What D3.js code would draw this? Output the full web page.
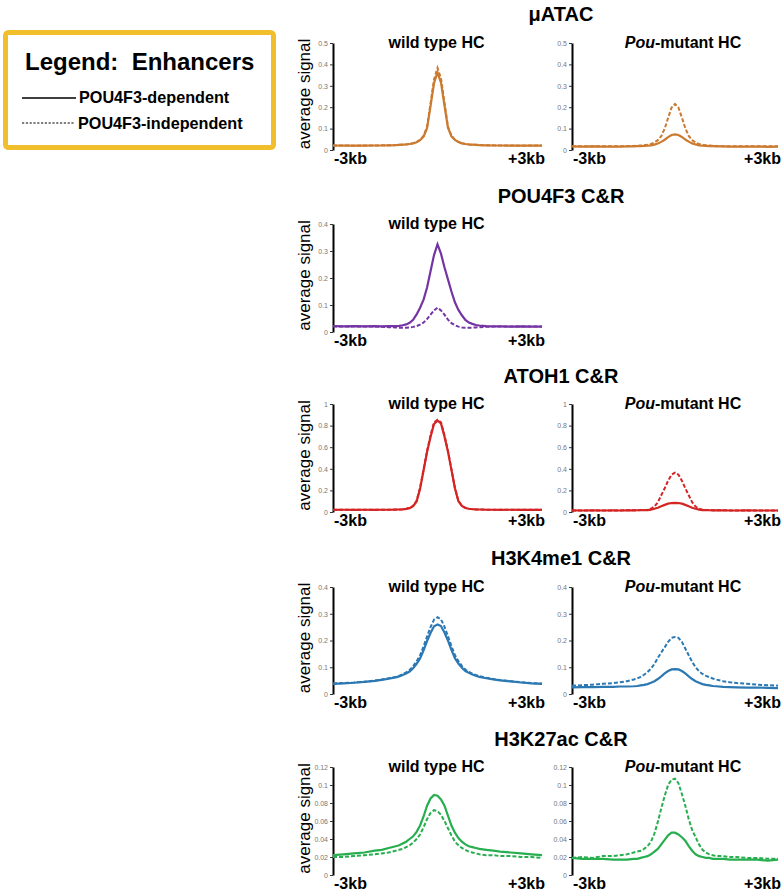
<!DOCTYPE html>
<html>
<head>
<meta charset="utf-8">
<script src="https://cdn.jsdelivr.net/npm/d3@7"></script>
<style>
html,body{margin:0;padding:0;background:#fff;}
svg{display:block;font-family:"Liberation Sans",Arial,sans-serif;}
</style>
</head>
<body>
<svg id="chart" width="783" height="892"></svg>
<script>
// genomic offsets (kb) of the profile bins
const xKb = [-3,-2.7,-2.4,-2.1,-1.8,-1.6,-1.4,
  -1.2,-1.1,-1.0,-0.9,-0.8,-0.7,-0.6,-0.5,-0.4,-0.3,-0.2,-0.1,0,0.1,0.2,0.3,0.4,0.5,0.6,0.7,0.8,0.9,1.0,1.1,1.2,
  1.4,1.6,1.8,2.1,2.4,2.7,3];

// µATAC
const atacWtDep = [0.021,0.020,0.021,0.020,0.021,0.021,0.022, 0.023,0.024,0.025,0.026,0.028,0.031,0.036,0.046,0.063,0.102,0.205,0.312,0.362,0.315,0.208,0.104,0.064,0.047,0.037,0.031,0.028,0.026,0.025,0.024,0.023, 0.022,0.021,0.021,0.020,0.021,0.020,0.020];
const atacWtInd = [0.021,0.021,0.020,0.021,0.021,0.022,0.022, 0.023,0.024,0.025,0.026,0.028,0.032,0.037,0.048,0.066,0.108,0.218,0.330,0.384,0.335,0.222,0.110,0.067,0.048,0.038,0.032,0.028,0.026,0.025,0.024,0.023, 0.022,0.022,0.021,0.021,0.020,0.021,0.021];
const atacMutDep = [0.017,0.016,0.017,0.016,0.016,0.016,0.017, 0.017,0.018,0.018,0.019,0.020,0.022,0.025,0.030,0.038,0.048,0.060,0.070,0.073,0.070,0.061,0.049,0.039,0.031,0.026,0.022,0.020,0.019,0.018,0.018,0.017, 0.017,0.016,0.016,0.016,0.016,0.015,0.016];
const atacMutInd = [0.018,0.018,0.017,0.018,0.017,0.018,0.018, 0.019,0.020,0.021,0.022,0.024,0.028,0.035,0.046,0.065,0.100,0.150,0.198,0.215,0.198,0.152,0.102,0.066,0.046,0.035,0.028,0.024,0.022,0.021,0.020,0.019, 0.018,0.018,0.017,0.018,0.017,0.018,0.018];
// POU4F3 C&R
const pouWtDep = [0.022,0.021,0.022,0.021,0.022,0.021,0.022, 0.022,0.023,0.025,0.028,0.034,0.045,0.065,0.090,0.120,0.165,0.225,0.285,0.325,0.290,0.240,0.195,0.150,0.110,0.082,0.062,0.045,0.035,0.030,0.026,0.024, 0.022,0.021,0.021,0.020,0.021,0.020,0.020];
const pouWtInd = [0.021,0.020,0.021,0.020,0.020,0.019,0.018, 0.017,0.016,0.016,0.016,0.017,0.019,0.022,0.027,0.035,0.048,0.064,0.080,0.090,0.080,0.064,0.046,0.033,0.025,0.020,0.017,0.016,0.016,0.016,0.017,0.018, 0.019,0.020,0.020,0.020,0.020,0.020,0.020];
// ATOH1 C&R
const atohWtDep = [0.020,0.021,0.020,0.021,0.020,0.021,0.021, 0.022,0.023,0.025,0.029,0.036,0.054,0.098,0.215,0.385,0.555,0.695,0.815,0.845,0.820,0.700,0.560,0.390,0.220,0.100,0.056,0.037,0.030,0.026,0.024,0.023, 0.021,0.021,0.020,0.021,0.020,0.020,0.020];
const atohWtInd = [0.021,0.020,0.021,0.020,0.021,0.020,0.021, 0.022,0.023,0.026,0.030,0.038,0.057,0.104,0.225,0.395,0.565,0.710,0.830,0.855,0.830,0.710,0.565,0.395,0.225,0.104,0.058,0.038,0.031,0.027,0.024,0.023, 0.022,0.021,0.021,0.020,0.021,0.020,0.021];
const atohMutDep = [0.015,0.014,0.015,0.014,0.015,0.014,0.015, 0.015,0.016,0.016,0.017,0.018,0.022,0.030,0.040,0.053,0.066,0.077,0.083,0.085,0.083,0.077,0.066,0.053,0.040,0.030,0.022,0.018,0.017,0.016,0.015,0.015, 0.015,0.014,0.014,0.015,0.014,0.014,0.014];
const atohMutInd = [0.015,0.015,0.014,0.015,0.015,0.015,0.016, 0.016,0.017,0.018,0.019,0.022,0.030,0.050,0.090,0.155,0.220,0.290,0.345,0.365,0.345,0.290,0.220,0.155,0.090,0.050,0.030,0.022,0.019,0.018,0.017,0.016, 0.016,0.015,0.015,0.015,0.014,0.015,0.015];
// H3K4me1 C&R
const k4WtDep = [0.038,0.040,0.042,0.045,0.049,0.053,0.057, 0.062,0.066,0.071,0.077,0.084,0.096,0.113,0.133,0.163,0.198,0.228,0.253,0.260,0.254,0.230,0.200,0.165,0.134,0.114,0.098,0.086,0.079,0.073,0.068,0.064, 0.059,0.055,0.051,0.047,0.043,0.040,0.038];
const k4WtInd = [0.039,0.041,0.043,0.046,0.050,0.054,0.059, 0.064,0.068,0.074,0.081,0.090,0.104,0.122,0.145,0.178,0.215,0.250,0.278,0.287,0.279,0.252,0.216,0.179,0.146,0.123,0.105,0.091,0.083,0.076,0.071,0.067, 0.061,0.056,0.052,0.048,0.044,0.041,0.039];
const k4MutDep = [0.025,0.026,0.026,0.027,0.027,0.028,0.028, 0.029,0.030,0.032,0.034,0.037,0.042,0.048,0.056,0.066,0.077,0.086,0.092,0.093,0.092,0.086,0.077,0.066,0.056,0.048,0.042,0.037,0.034,0.032,0.030,0.029, 0.027,0.026,0.025,0.024,0.024,0.023,0.022];
const k4MutInd = [0.031,0.033,0.035,0.038,0.041,0.044,0.048, 0.054,0.058,0.064,0.072,0.082,0.095,0.112,0.135,0.155,0.175,0.195,0.210,0.213,0.210,0.195,0.170,0.145,0.120,0.100,0.085,0.075,0.068,0.063,0.058,0.054, 0.048,0.044,0.041,0.038,0.035,0.033,0.031];
// H3K27ac C&R
const k27WtDep = [0.022,0.023,0.024,0.025,0.027,0.028,0.030, 0.032,0.033,0.035,0.037,0.040,0.043,0.048,0.055,0.065,0.077,0.085,0.089,0.088,0.084,0.077,0.066,0.055,0.047,0.041,0.037,0.034,0.032,0.031,0.030,0.029, 0.028,0.027,0.026,0.025,0.024,0.023,0.022];
const k27WtInd = [0.020,0.020,0.021,0.022,0.023,0.024,0.025, 0.027,0.028,0.029,0.031,0.033,0.036,0.040,0.045,0.053,0.062,0.069,0.072,0.071,0.067,0.060,0.052,0.044,0.037,0.033,0.030,0.028,0.026,0.025,0.024,0.023, 0.022,0.022,0.021,0.021,0.020,0.020,0.019];
const k27MutDep = [0.019,0.018,0.018,0.018,0.017,0.017,0.017, 0.018,0.018,0.019,0.020,0.021,0.023,0.026,0.029,0.034,0.039,0.044,0.047,0.047,0.045,0.042,0.038,0.032,0.027,0.023,0.021,0.020,0.019,0.019,0.018,0.018, 0.018,0.017,0.017,0.017,0.017,0.016,0.017];
const k27MutInd = [0.019,0.020,0.019,0.021,0.021,0.022,0.023, 0.025,0.026,0.027,0.029,0.032,0.037,0.046,0.059,0.074,0.088,0.100,0.106,0.107,0.102,0.090,0.077,0.062,0.050,0.042,0.034,0.028,0.025,0.023,0.022,0.021, 0.021,0.020,0.020,0.019,0.019,0.018,0.018];

const rowTitles = ["μATAC","POU4F3 C&R","ATOH1 C&R","H3K4me1 C&R","H3K27ac C&R"];
const rowColors = ["#CB7A30","#7434A3","#D42525","#2B78B3","#27AE4F"];
const rowMax = [0.5,0.4,1,0.4,0.12];
const rowTicks = [
  ["0","0.1","0.2","0.3","0.4","0.5"],
  ["0","0.1","0.2","0.3","0.4"],
  ["0","0.2","0.4","0.6","0.8","1"],
  ["0","0.1","0.2","0.3","0.4"],
  ["0","0.02","0.04","0.06","0.08","0.1","0.12"]
];
const panelLabels = ["wild type HC","Pou-mutant HC"];
const legendTitle = "Legend:  Enhancers";
const legendItems = ["POU4F3-dependent","POU4F3-independent"];
const xEndLabels = ["-3kb","+3kb"];

const rowSeries = [
  [[atacWtDep,atacWtInd],[atacMutDep,atacMutInd]],
  [[pouWtDep,pouWtInd]],
  [[atohWtDep,atohWtInd],[atohMutDep,atohMutInd]],
  [[k4WtDep,k4WtInd],[k4MutDep,k4MutInd]],
  [[k27WtDep,k27WtInd],[k27MutDep,k27MutInd]]
];

// layout
const rowTop = [43,224,404,587,767];
const rowZero = [150,332,512,694,875];
const titleBase = [21,203,383,565,746];
const panelX = [[333,542],[572,778]];

const svg = d3.select("#chart");

// Legend box
const lg = svg.append("g");
lg.append("rect").attr("x",5.5).attr("y",32.5).attr("width",268).attr("height",115)
  .attr("rx",3).attr("fill","#fff").attr("stroke","#F2BF2C").attr("stroke-width",5);
lg.append("text").attr("x",25).attr("y",70).attr("font-size",24).attr("font-weight","bold")
  .style("white-space","pre").text(legendTitle);
lg.append("line").attr("x1",22).attr("x2",76).attr("y1",98).attr("y2",98)
  .attr("stroke","#000").attr("stroke-width",1.5);
lg.append("text").attr("x",79).attr("y",103).attr("font-size",16.2).attr("font-weight","bold").text(legendItems[0]);
lg.append("line").attr("x1",22).attr("x2",75).attr("y1",123).attr("y2",123)
  .attr("stroke","#000").attr("stroke-width",1.2).attr("stroke-dasharray","2.2,1.6");
lg.append("text").attr("x",78).attr("y",129).attr("font-size",16.2).attr("font-weight","bold").text(legendItems[1]);

rowTitles.forEach((title, r) => {
  const g = svg.append("g");
  g.append("text").attr("x",561).attr("y",titleBase[r]).attr("text-anchor","middle")
    .attr("font-size",20).attr("font-weight","bold").text(title);

  const top = rowTop[r], zero = rowZero[r];
  // y axis title
  g.append("text")
    .attr("transform",`translate(310,${(top+zero)/2-2.5}) rotate(-90)`)
    .attr("text-anchor","middle").attr("font-size",17).text("average signal");

  rowSeries[r].forEach((pair, p) => {
    const [x0,x1] = panelX[p];
    const x = d3.scaleLinear().domain([-3,3]).range([x0,x1]);
    const y = d3.scaleLinear().domain([0,rowMax[r]]).range([zero,top]);
    const pg = g.append("g");

    // y axis
    const axis = d3.axisLeft(y).tickValues(rowTicks[r].map(Number))
      .tickFormat((d,i)=>rowTicks[r][i]).tickSize(3).tickSizeOuter(0).tickPadding(2);
    const ax = pg.append("g").attr("transform",`translate(${x0},0)`).call(axis);
    ax.select(".domain").attr("stroke","#000").attr("stroke-width",2);
    ax.selectAll(".tick line").attr("stroke","#333").attr("stroke-width",1);
    ax.selectAll(".tick text").attr("font-size",7).attr("fill","#777")
      .attr("font-family","'Liberation Sans',Arial,sans-serif");

    // panel label
    const lt = pg.append("text").attr("x",(x0+x1)/2 + (p===1?8:-1)).attr("y",top+4.5)
      .attr("text-anchor","middle").attr("font-size",16).attr("font-weight","bold");
    if (p===0) lt.text(panelLabels[0]);
    else {
      lt.append("tspan").attr("font-style","italic").text("Pou");
      lt.append("tspan").text("-mutant HC");
    }

    // x end labels
    pg.append("text").attr("x",x0+1).attr("y",zero+13.5).attr("font-size",16)
      .attr("font-weight","bold").text(xEndLabels[0]);
    pg.append("text").attr("x",x1+3).attr("y",zero+13.5).attr("font-size",16)
      .attr("font-weight","bold").attr("text-anchor","end").text(xEndLabels[1]);

    const line = d3.line().x((d,i)=>x(xKb[i])).y(d=>y(d));
    pg.append("path").datum(pair[1]).attr("d",line).attr("fill","none")
      .attr("stroke",rowColors[r]).attr("stroke-width",2).attr("stroke-dasharray","4,2");
    pg.append("path").datum(pair[0]).attr("d",line).attr("fill","none")
      .attr("stroke",rowColors[r]).attr("stroke-width",2.2);
  });
});
</script>
</body>
</html>
